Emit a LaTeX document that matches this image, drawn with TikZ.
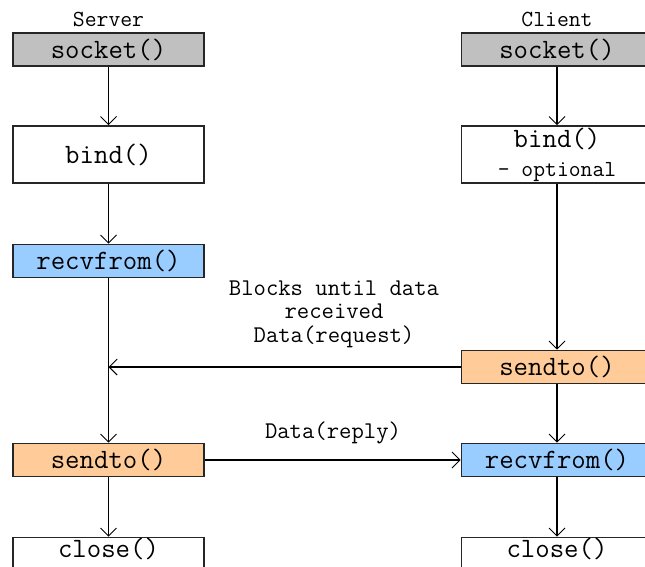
\documentclass[tikz,border=0pt]{standalone}
\usepackage{fontspec}
\usetikzlibrary{arrows.meta}
\definecolor{sockgray}{RGB}{192,192,192}
\definecolor{recvblue}{RGB}{153,204,255}
\definecolor{sendorange}{RGB}{255,204,153}
\begin{document}
\begin{tikzpicture}[x=1pt, y=-1pt, font=\ttfamily, line width=1.2pt, >={Straight Barb[length=8pt,width=16pt,line width=1pt]},
	call/.style={draw=black!85, line width=1.6pt, minimum width=191pt, minimum height=33pt, inner sep=0pt, font=\ttfamily\fontsize{28}{30}\selectfont},
	head/.style={font=\ttfamily\fontsize{23}{25}\selectfont},
	note/.style={font=\ttfamily\fontsize{24}{23.5}\selectfont, align=center}]
	\useasboundingbox (0,0) rectangle (645,566);
	\node[head] (shead) at (108.5,19) {Server};
	\node[head] (chead) at (557,19) {Client};
	\node[call, fill=sockgray] (ssock) at (108.5,49.5) {socket()};
	\node[call, fill=sockgray] (csock) at (557,49.5) {socket()};
	\node[call, minimum height=57pt] (sbind) at (108.5,154.5) {bind()};
	\node[call, minimum height=57pt, align=center] (cbind) at (557,154.5) {bind()\\[-1pt]{\fontsize{23}{25}\selectfont - optional}};
	\node[call, fill=recvblue] (srecv) at (108.5,261) {recvfrom()};
	\node[call, fill=sendorange] (csend) at (557,367) {sendto()};
	\node[call, fill=sendorange] (ssend) at (108.5,460) {sendto()};
	\node[call, fill=recvblue] (crecv) at (557,460) {recvfrom()};
	\node[call, text depth=12pt] (sclose) at (108.5,554) {close()};
	\node[call, text depth=12pt] (cclose) at (557,554) {close()};
	\foreach \a/\b in {ssock/sbind, sbind/srecv, srecv/ssend, ssend/sclose, csock/cbind, cbind/csend, csend/crecv, crecv/cclose}{
	\draw[->] (\a) -- (\b);
	}
	\draw[->] (csend.west) -- (csend.west -| srecv.south);
	\draw[->] (ssend) -- (crecv);
	\node[note] (blk) at (334,314) {Blocks until data\\received\\Data(request)};
	\node[note] (rep) at (333,433) {Data(reply)};
\end{tikzpicture}
\end{document}
